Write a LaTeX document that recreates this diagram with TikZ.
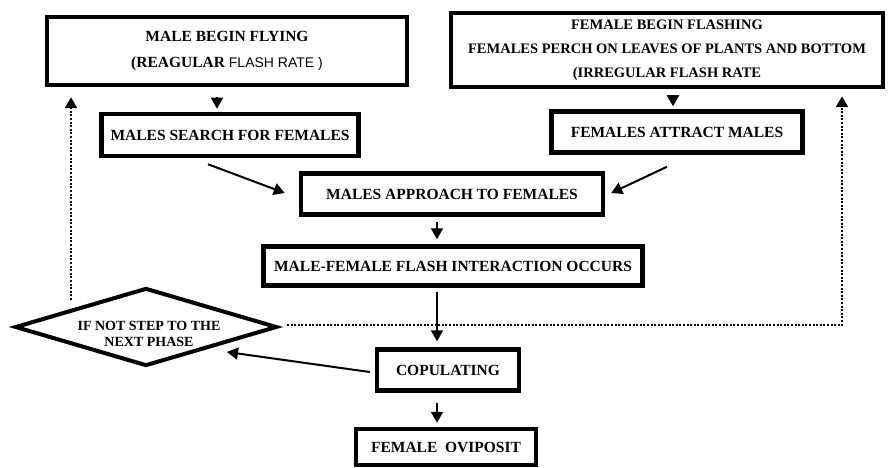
\documentclass[tikz,border=0pt]{standalone}
\usepackage{fontspec}
\setmainfont{Liberation Serif}
\newfontfamily\arialfont{Liberation Sans}
\usetikzlibrary{shapes.geometric,arrows.meta}

\begin{document}
\begin{tikzpicture}[x=1pt,y=-1pt,
  box/.style={draw,line width=4.5pt,inner sep=0pt,align=center,font=\fontsize{15.5}{26}\selectfont\bfseries},
  arr/.style={line width=2pt,-{Triangle[width=12pt,length=11pt]}},
  dots/.style={line width=2.4pt,dash pattern=on 2pt off 1.6pt,-{Triangle[width=12pt,length=11pt]}}]
\useasboundingbox (0,0) rectangle (891,468);
\node[box,minimum width=360pt,minimum height=68pt] (mfly) at (227,51) {MALE BEGIN FLYING\\(REAGULAR {\arialfont\mdseries\fontsize{14}{26}\selectfont FLASH RATE )}};
\node[box,minimum width=432pt,minimum height=74pt,font=\fontsize{14.5}{24}\selectfont\bfseries] (ffl) at (667,50) {FEMALE BEGIN FLASHING\\FEMALES PERCH ON LEAVES OF PLANTS AND BOTTOM\\(IRREGULAR FLASH RATE};
\node[box,minimum width=257pt,minimum height=42pt] (msearch) at (230,135) {MALES SEARCH FOR FEMALES};
\node[box,minimum width=251pt,minimum height=41pt] (fattract) at (677,132) {FEMALES ATTRACT MALES};
\node[box,minimum width=302pt,minimum height=41pt] (mapproach) at (452,194) {MALES APPROACH TO FEMALES};
\node[box,minimum width=379pt,minimum height=39pt] (interact) at (453,266) {MALE-FEMALE FLASH INTERACTION OCCURS};
\node[box,minimum width=142pt,minimum height=41pt] (cop) at (448,370) {COPULATING};
\node[box,minimum width=180pt,minimum height=36pt] (ovi) at (446,447) {FEMALE\ \ OVIPOSIT};
\node[draw,diamond,aspect=3.4,line width=4pt,inner sep=0pt,minimum width=262pt,minimum height=78pt] (diam) at (146,327) {};
\node[align=center,inner sep=0pt,font=\fontsize{14}{16}\selectfont\bfseries] (diamtext) at (149,334) {IF NOT STEP TO THE\\NEXT PHASE};
\draw[arr] ([shift={(-10,10)}]mfly.south) -- ([shift={(-13,-3)}]msearch.north);
\draw[arr] ([shift={(6,8)}]ffl.south) -- ([shift={(-4,-3)}]fattract.north);
\draw[arr] ([shift={(-22,6)}]msearch.south) -- ([shift={(-14,-1)}]mapproach.west);
\draw[arr] ([shift={(-10,12)}]fattract.south) -- ([shift={(6,-1)}]mapproach.east);
\draw[arr] ([shift={(-15,5)}]mapproach.south) -- ([shift={(-16,-5)}]interact.north);
\draw[arr] ([shift={(-16,4)}]interact.south) -- ([shift={(-11,-6)}]cop.north);
\draw[arr] ([shift={(-11,10)}]cop.south) -- ([shift={(-9,-4)}]ovi.north);
\draw[arr] ([shift={(-5,2)}]cop.west) -- ([shift={(81,25)}]diam.center);
\draw[dots] ([shift={(-75,-27)}]diam.center) -- ([shift={(-156,10)}]mfly.south);
\draw[dots] ([shift={(8,-2)}]diam.east) -| ([shift={(175,7)}]ffl.south);
\end{tikzpicture}
\end{document}
